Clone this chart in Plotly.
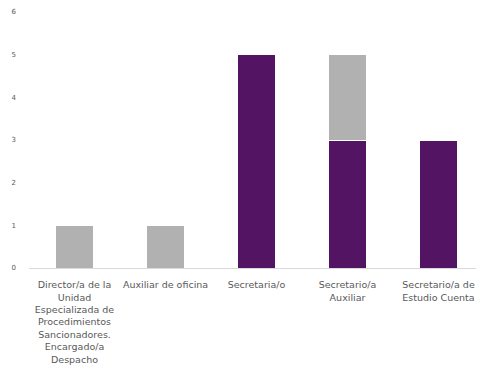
import plotly.graph_objects as go

categories = [
    "Director/a de la<br>Unidad<br>Especializada de<br>Procedimientos<br>Sancionadores.<br>Encargado/a<br>Despacho",
    "Auxiliar de oficina",
    "Secretaria/o",
    "Secretario/a<br>Auxiliar",
    "Secretario/a de<br>Estudio Cuenta",
]
mujeres = [None, None, 5, 3, 3]
hombres = [1, 1, None, 2, None]

fig = go.Figure()
fig.add_trace(go.Bar(
    x=categories, y=mujeres, name="Mujeres",
    marker=dict(color="#521463", line=dict(color="white", width=1)),
))
fig.add_trace(go.Bar(
    x=categories, y=hombres, name="Hombres",
    marker=dict(color="#b1b1b1", line=dict(color="white", width=1)),
))

# page body has an 8px margin, so offsets are reduced accordingly
fig.update_layout(
    barmode="stack",
    bargap=0.58,
    width=476, height=375,
    margin=dict(l=21, r=0, t=4, b=115),
    plot_bgcolor="white", paper_bgcolor="white",
    showlegend=False,
    font=dict(family="DejaVu Sans", size=8, color="#595959"),
    xaxis=dict(
        showline=True, linecolor="#d9d9d9", linewidth=1,
        ticks="", tickangle=0, tickfont=dict(size=9.5),
        ticklabelstandoff=8,
    ),
    yaxis=dict(
        range=[0, 6], dtick=1, showgrid=False, zeroline=False,
        ticks="", tickfont=dict(size=7), ticklabelstandoff=12,
    ),
)

fig.write_html("out.html")
